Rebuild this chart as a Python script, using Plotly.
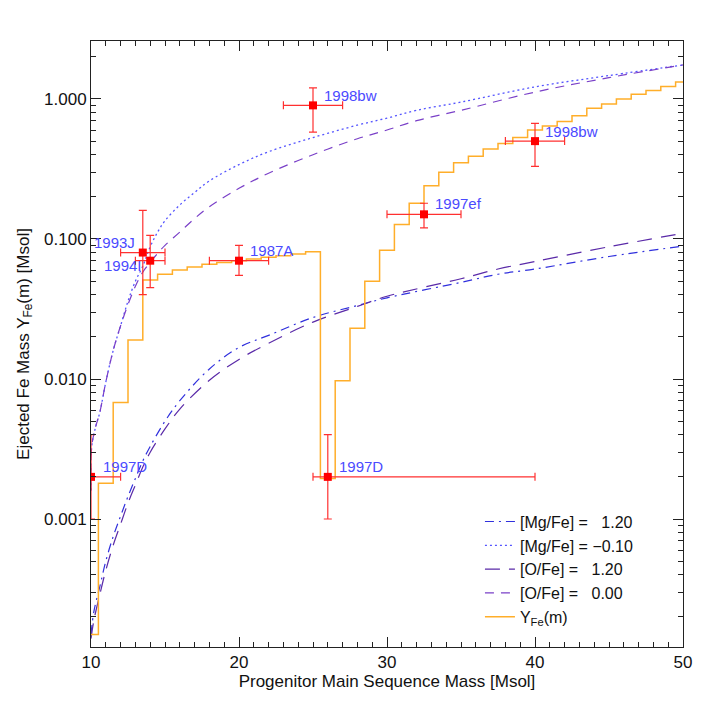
import math
import plotly.graph_objects as go

# ---------------- data ----------------
# model curves (progenitor mass, ejected Fe mass)
mgfe_hi_mass = [10, 10.2, 10.6, 11, 11.5, 12, 12.5, 13, 13.5, 14, 15, 16, 18, 20, 22, 25, 28, 30, 35, 37.5, 40, 45, 50]
mgfe_hi_fe = [1.5e-4, 2.2e-4, 3.3e-4, 5.0e-4, 7.5e-4, 1.05e-3, 1.45e-3, 1.95e-3, 2.6e-3, 3.3e-3, 5.0e-3,
              7.0e-3, 0.0118, 0.0168, 0.0205, 0.0275, 0.0335, 0.038, 0.049, 0.056, 0.061, 0.075, 0.089]

mgfe_lo_mass = [10, 10.05, 10.3, 10.6, 11, 11.5, 12, 12.5, 13, 13.5, 14, 14.5, 15, 16, 17, 18, 20, 22, 25, 28, 30, 32, 35, 40, 45, 50]
mgfe_lo_fe = [0.0016, 0.0033, 0.0045, 0.0058, 0.0095, 0.016, 0.024, 0.036, 0.050, 0.064, 0.088, 0.112, 0.135,
              0.175, 0.215, 0.26, 0.34, 0.42, 0.53, 0.65, 0.73, 0.83, 0.95, 1.22, 1.47, 1.75]

ofe_hi_mass = [10, 10.2, 10.6, 11, 11.5, 12, 12.5, 13, 13.5, 14, 15, 16, 18, 20, 22, 25, 28, 30, 35, 37.5, 40, 45, 50]
ofe_hi_fe = [1.4e-4, 1.9e-4, 2.9e-4, 4.3e-4, 6.5e-4, 9.2e-4, 1.3e-3, 1.75e-3, 2.35e-3, 3.0e-3, 4.4e-3,
             6.1e-3, 9.8e-3, 0.0138, 0.018, 0.0255, 0.033, 0.039, 0.052, 0.061, 0.069, 0.088, 0.11]

ofe_lo_mass = [10, 10.05, 10.3, 10.6, 11, 11.5, 12, 12.5, 13, 13.5, 14, 14.5, 15, 16, 17, 18, 20, 22, 25, 28, 30, 32, 35, 40, 45, 50]
ofe_lo_fe = [0.0016, 0.0033, 0.0045, 0.0058, 0.0095, 0.016, 0.024, 0.034, 0.046, 0.058, 0.068, 0.079, 0.09,
             0.112, 0.14, 0.17, 0.23, 0.295, 0.40, 0.52, 0.60, 0.70, 0.83, 1.12, 1.42, 1.75]

# step function Y_Fe(m): left edges of each step and its value
step_mass = [10, 10.5, 11.5, 12.5, 13.5, 14.5, 15.5, 16.5, 17.5, 18.5, 19.5, 20.5, 21.5, 22.5, 23.5, 24.5,
             25.5, 26.5, 27.5, 28.5, 29.5, 30.5, 31.5, 32.5, 33.5, 34.5, 35.5, 36.5, 37.5, 38.5, 39.5,
             40.5, 41.5, 42.5, 43.5, 44.5, 45.5, 46.5, 47.5, 48.5, 49.5, 50]
step_fe = [1.5e-4, 0.0018, 0.0068, 0.019, 0.051, 0.056, 0.060, 0.063, 0.066, 0.068, 0.070, 0.072, 0.074,
           0.076, 0.078, 0.081, 0.00195, 0.0097, 0.023, 0.050, 0.083, 0.127, 0.18, 0.24, 0.30, 0.35, 0.39,
           0.44, 0.48, 0.53, 0.60, 0.64, 0.69, 0.76, 0.86, 0.92, 1.00, 1.08, 1.15, 1.23, 1.32, 1.32]

# observed supernovae
sn_names = ["1997D", "1993J", "1994I", "1987A", "1997D", "1998bw", "1997ef", "1998bw"]
sn_mass = [10, 13.5, 14, 20, 26, 25, 32.5, 40]
sn_fe = [0.002, 0.08, 0.07, 0.07, 0.002, 0.9, 0.15, 0.5]
sn_mass_err_minus = [2, 1.5, 1, 2, 1, 2, 2.5, 2]
sn_mass_err_plus = [2, 1.5, 1, 2, 14, 2, 2.5, 2]
sn_fe_err_plus = [0.002, 0.08, 0.036, 0.02, 0.002, 0.3, 0.03, 0.17]
sn_fe_err_minus = [0.001, 0.04, 0.025, 0.015, 0.001, 0.32, 0.03, 0.17]
# label anchor (left edge / middle) in data coordinates
label_mass = [10.66, 10.1, 10.75, 20.59, 26.64, 25.59, 33.13, 40.54]
label_fe = [0.00236, 0.094, 0.0645, 0.0825, 0.00239, 1.056, 0.178, 0.584]

legend_names = ["[Mg/Fe] =\u00a0\u00a0 1.20", "[Mg/Fe] = \u22120.10",
                "[O/Fe] =\u00a0\u00a0 1.20", "[O/Fe] =\u00a0\u00a0 0.00", "Y<sub>Fe</sub>(m)"]

ytick_vals = [0.001, 0.01, 0.1, 1.0]
ytick_text = ["0.001", "0.010", "0.100", "1.000"]

# ---------------- figure ----------------
FONT = "Liberation Sans, Arial, sans-serif"
fig = go.Figure()

fig.add_trace(go.Scatter(x=mgfe_hi_mass, y=mgfe_hi_fe, mode="lines", name=legend_names[0],
                         line=dict(color="#3030dd", width=1.2, dash="9px,5px,2px,5px", shape="spline")))
fig.add_trace(go.Scatter(x=mgfe_lo_mass, y=mgfe_lo_fe, mode="lines", name=legend_names[1],
                         line=dict(color="#5555ff", width=1.3, dash="2px,3px", shape="spline")))
fig.add_trace(go.Scatter(x=ofe_hi_mass, y=ofe_hi_fe, mode="lines", name=legend_names[2],
                         line=dict(color="#5a2aa8", width=1.2, dash="15px,9px", shape="spline")))
fig.add_trace(go.Scatter(x=ofe_lo_mass, y=ofe_lo_fe, mode="lines", name=legend_names[3],
                         line=dict(color="#7a40c8", width=1.2, dash="9px,7px", shape="spline")))
fig.add_trace(go.Scatter(x=step_mass, y=step_fe, mode="lines", name=legend_names[4],
                         line=dict(color="#ffae2a", width=1.5, shape="hv")))

fig.add_trace(go.Scatter(
    x=sn_mass, y=sn_fe, mode="markers", showlegend=False,
    marker=dict(symbol="square", size=8, color="#ff0000"),
    error_x=dict(type="data", symmetric=False, array=sn_mass_err_plus, arrayminus=sn_mass_err_minus,
                 color="#ff3030", thickness=1.2, width=4),
    error_y=dict(type="data", symmetric=False, array=sn_fe_err_plus, arrayminus=sn_fe_err_minus,
                 color="#ff3030", thickness=1.2, width=4),
))

for name, lx, ly in zip(sn_names, label_mass, label_fe):
    fig.add_annotation(x=lx, y=math.log10(ly), text=name, showarrow=False, xanchor="left",
                       yanchor="middle", font=dict(family=FONT, size=15, color="#4a4aff"))

axis_common = dict(showgrid=False, zeroline=False, showline=True, linecolor="#222222", linewidth=1,
                   mirror="allticks", ticks="inside", tickcolor="#222222",
                   tickfont=dict(family=FONT, size=17, color="#111111"))

fig.update_xaxes(range=[10, 50], dtick=10, tick0=10, ticklen=10,
                 minor=dict(dtick=1, ticks="inside", ticklen=5, tickcolor="#222222"),
                 title=dict(text="Progenitor Main Sequence Mass [Msol]",
                            font=dict(family=FONT, size=17, color="#111111"), standoff=0),
                 **axis_common)
fig.update_yaxes(type="log", range=[-3.914, 0.414], tickvals=ytick_vals, ticktext=ytick_text, ticklen=10,
                 minor=dict(ticks="inside", ticklen=5, tickcolor="#222222", dtick="D1", showgrid=False),
                 title=dict(text="Ejected Fe Mass Y<sub>Fe</sub>(m) [Msol]",
                            font=dict(family=FONT, size=17, color="#111111"), standoff=10),
                 **axis_common)

fig.update_layout(
    width=709, height=709,
    margin=dict(l=83, r=34, t=33, b=70),
    paper_bgcolor="white", plot_bgcolor="white",
    showlegend=True,
    legend=dict(x=0.657, y=0.235, xanchor="left", yanchor="top", bgcolor="rgba(0,0,0,0)",
                font=dict(family=FONT, size=16, color="#111111"), tracegroupgap=0),
)

fig.write_html("out.html")
